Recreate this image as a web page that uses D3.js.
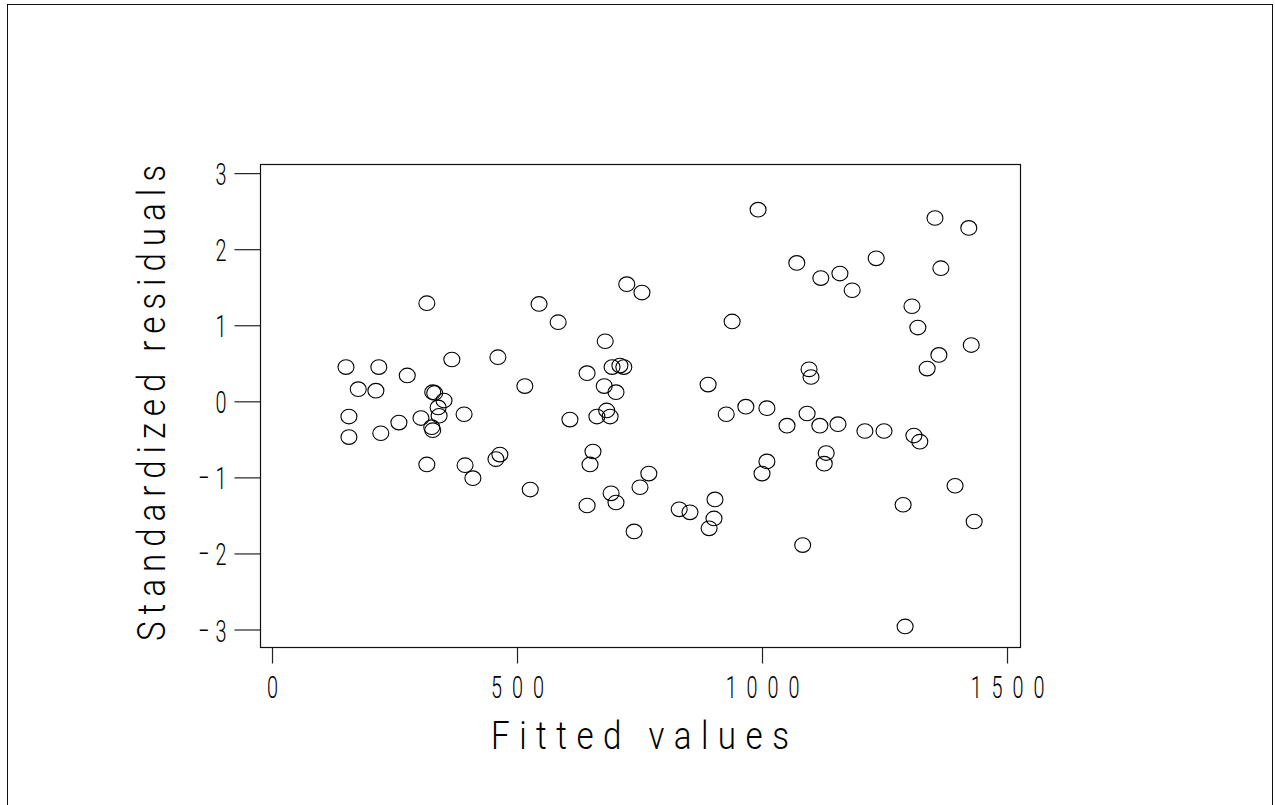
<!DOCTYPE html>
<html>
<head>
<meta charset="utf-8">
<script src="https://cdn.jsdelivr.net/npm/d3@7"></script>
<style>
  html, body { margin: 0; padding: 0; background: #fff; }
  svg { display: block; }
  text { font-family: Roboto, "DejaVu Sans", sans-serif; font-weight: 300; fill: #000; }
</style>
</head>
<body>
<div id="chart"></div>
<script>
// fitted values and standardized residuals
var fittedValues = [151, 157, 157, 176, 212, 218, 222, 259, 276, 304, 316, 316, 326, 328, 328, 332,
    339, 341, 351, 367, 392, 394, 410, 457, 461, 465, 516, 527, 545, 584, 608, 643, 643, 649, 655,
    663, 678, 680, 683, 690, 692, 694, 702, 702, 710, 718, 724, 739, 751, 755, 769, 831, 853, 890,
    892, 902, 904, 927, 939, 967, 992, 1000, 1010, 1010, 1051, 1071, 1083, 1092, 1096, 1100, 1118,
    1120, 1127, 1131, 1155, 1159, 1184, 1210, 1233, 1249, 1288, 1292, 1306, 1310, 1318, 1322, 1337,
    1353, 1361, 1365, 1394, 1422, 1427, 1433];
var stdResiduals = [0.45, -0.20, -0.47, 0.16, 0.14, 0.45, -0.42, -0.28, 0.34, -0.22, 1.29, -0.83,
    -0.34, -0.38, 0.12, 0.11, -0.08, -0.19, 0.01, 0.55, -0.17, -0.84, -1.01, -0.76, 0.58, -0.70,
    0.20, -1.16, 1.28, 1.04, -0.24, 0.37, -1.37, -0.83, -0.66, -0.20, 0.20, 0.79, -0.12, -0.20,
    -1.21, 0.45, 0.12, -1.33, 0.47, 0.45, 1.54, -1.71, -1.13, 1.43, -0.95, -1.42, -1.46, 0.22,
    -1.67, -1.54, -1.29, -0.17, 1.05, -0.07, 2.52, -0.95, -0.09, -0.79, -0.32, 1.82, -1.89, -0.16,
    0.42, 0.32, -0.32, 1.62, -0.82, -0.68, -0.30, 1.68, 1.46, -0.39, 1.88, -0.39, -1.36, -2.96,
    1.25, -0.45, 0.97, -0.53, 0.43, 2.41, 0.61, 1.75, -1.11, 2.28, 0.74, -1.58];

var xTicks = [0, 500, 1000, 1500];
var yTicks = [-3, -2, -1, 0, 1, 2, 3];
var xTitle = "Fitted values";
var yTitle = "Standardized residuals";

var vWidth = 1275, vHeight = 805;
var vBox = { mLeft: 260, mRight: 1020, mTop: 164, mBottom: 647 };
// the original lettering is narrow, so glyphs get squeezed sideways
var vSqueeze = 0.62, vTickSpacing = 16, vTitleSqueeze = 0.85;

var svg = d3.select("#chart")
    .append("svg")
    .attr("width", vWidth)
    .attr("height", vHeight);

// outer frame (bottom edge runs off the page)
svg.append("rect")
    .attr("x", 7.5)
    .attr("y", 4.5)
    .attr("width", 1265)
    .attr("height", 820)
    .attr("fill", "none")
    .attr("stroke", "#111")
    .attr("stroke-width", 1);

var x = d3.scaleLinear()
    .domain([-24.5, 1526.5])
    .range([vBox.mLeft, vBox.mRight]);

var y = d3.scaleLinear()
    .domain([-3.23, 3.12])
    .range([vBox.mBottom, vBox.mTop]);

// plot box
svg.append("rect")
    .attr("x", vBox.mLeft + 0.5)
    .attr("y", vBox.mTop + 0.5)
    .attr("width", vBox.mRight - vBox.mLeft)
    .attr("height", vBox.mBottom - vBox.mTop)
    .attr("fill", "none")
    .attr("stroke", "#111")
    .attr("stroke-width", 1.2);

// x axis
var gX = svg.append("g")
    .attr("transform", "translate(0," + (vBox.mBottom + 0.5) + ")")
    .call(d3.axisBottom(x).tickValues(xTicks).tickSize(16).tickPadding(12).tickFormat(d3.format("d")));
gX.select(".domain").remove();
gX.selectAll("line").attr("stroke", "#222").attr("stroke-width", 1.2);
gX.selectAll("text")
    .style("font-size", "32px")
    .style("letter-spacing", vTickSpacing + "px")
    .attr("dx", (vTickSpacing / 2) + "px")
    .attr("transform", "scale(" + vSqueeze + ",1)");

// y axis
var gY = svg.append("g")
    .attr("transform", "translate(" + (vBox.mLeft + 0.5) + ",0)")
    .call(d3.axisLeft(y).tickValues(yTicks).tickSize(26).tickPadding(10).tickFormat(function (d) { return d < 0 ? "\u2212" + (-d) : d; }));
gY.select(".domain").remove();
gY.selectAll("line").attr("stroke", "#222").attr("stroke-width", 1.2);
gY.selectAll("text")
    .style("font-size", "32px")
    .style("letter-spacing", "10px")
    .attr("x", -34 / vSqueeze + 10)
    .attr("dy", "0.36em")
    .attr("transform", "scale(" + vSqueeze + ",1)");

// axis titles
svg.append("text")
    .attr("transform", "translate(" + ((vBox.mLeft + vBox.mRight) / 2) + ",749)scale(" + vTitleSqueeze + ",1)")
    .attr("text-anchor", "middle")
    .attr("textLength", 298 / vTitleSqueeze)
    .attr("lengthAdjust", "spacing")
    .style("font-size", "39px")
    .text(xTitle);

svg.append("text")
    .attr("transform", "translate(165,403)rotate(-90)scale(" + vTitleSqueeze + ",1)")
    .attr("text-anchor", "middle")
    .attr("textLength", 476 / vTitleSqueeze)
    .attr("lengthAdjust", "spacing")
    .style("font-size", "39px")
    .text(yTitle);

// points
svg.selectAll(".pt")
    .data(d3.range(fittedValues.length))
    .enter()
    .append("ellipse")
    .attr("class", "pt")
    .attr("cx", function (i) { return x(fittedValues[i]); })
    .attr("cy", function (i) { return y(stdResiduals[i]); })
    .attr("rx", 8)
    .attr("ry", 7.3)
    .attr("fill", "none")
    .attr("stroke", "#000")
    .attr("stroke-width", 1.1);
</script>
</body>
</html>
